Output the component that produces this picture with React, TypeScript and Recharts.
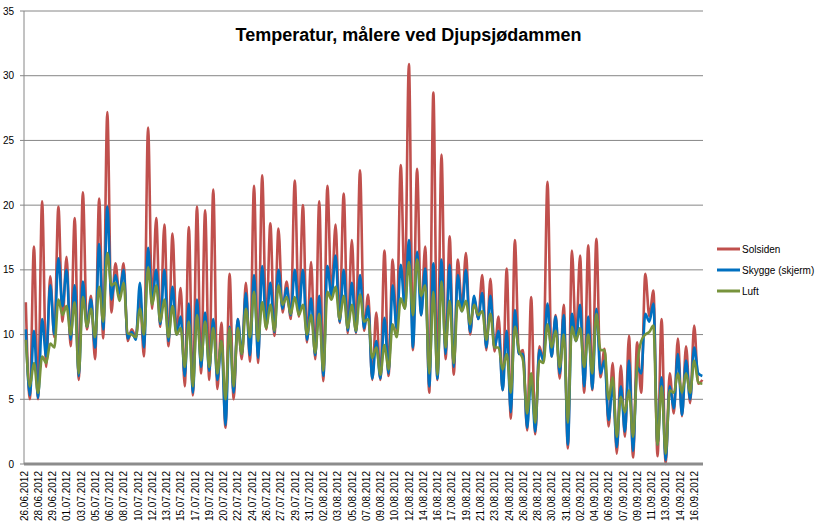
import React from 'react';
import { LineChart, Line, XAxis, YAxis, CartesianGrid } from 'recharts';

const chartTitle = 'Temperatur, målere ved Djupsjødammen';
const seriesNames = ['Solsiden', 'Skygge (skjerm)', 'Luft'];
const seriesKeys = ['solsiden', 'skygge', 'luft'];
const seriesColors = ['#C0504D', '#0070C0', '#77933C'];

const yTicks = [0, 5, 10, 15, 20, 25, 30, 35];

const tickLabels = [
  '26.06.2012', '28.06.2012', '29.06.2012', '01.07.2012', '03.07.2012', '05.07.2012',
  '06.07.2012', '08.07.2012', '10.07.2012', '12.07.2012', '13.07.2012', '15.07.2012',
  '17.07.2012', '19.07.2012', '20.07.2012', '22.07.2012', '24.07.2012', '26.07.2012',
  '27.07.2012', '29.07.2012', '31.07.2012', '02.08.2012', '03.08.2012', '05.08.2012',
  '07.08.2012', '09.08.2012', '10.08.2012', '12.08.2012', '14.08.2012', '16.08.2012',
  '17.08.2012', '19.08.2012', '21.08.2012', '23.08.2012', '24.08.2012', '26.08.2012',
  '28.08.2012', '30.08.2012', '31.08.2012', '02.09.2012', '04.09.2012', '06.09.2012',
  '07.09.2012', '09.09.2012', '11.09.2012', '13.09.2012', '14.09.2012', '16.09.2012',
];

// days between labelled categories, and sampling (afternoon peak / night low)
const tickStepDays = 1.75;
const sampleStepDays = 0.5;
const firstSampleDay = 0.22;
const axisEndDay = 83.3;

// values alternate: daytime high, following night low
const solsiden = [
  12.5, 5.0, 16.8, 5.0, 20.3, 7.5, 14.5, 9.8, 19.9, 11.0, 16.0, 9.1, 19.0, 6.5, 21.0, 10.4, 13.0, 8.1, 20.5, 9.7,
  27.2, 11.7, 15.5, 12.9, 15.5, 9.5, 10.4, 9.8, 13.0, 8.3, 26.0, 12.0, 19.0, 10.6, 18.5, 9.1, 17.8, 10.0, 13.6, 6.0,
  18.3, 5.3, 19.9, 7.0, 19.6, 6.5, 21.2, 5.8, 10.9, 2.8, 14.7, 5.0, 11.2, 8.1, 14.0, 7.9, 21.5, 7.8, 22.3, 10.4,
  18.6, 9.9, 18.2, 11.7, 14.1, 11.2, 21.9, 11.4, 20.0, 9.4, 15.6, 8.1, 20.3, 6.4, 21.5, 12.9, 18.5, 10.9, 20.9, 10.1,
  17.3, 10.1, 22.7, 10.3, 13.1, 6.5, 11.7, 6.5, 16.5, 6.8, 15.8, 10.3, 23.1, 13.0, 30.9, 8.8, 22.8, 11.5, 16.8, 5.5,
  28.7, 6.5, 23.9, 8.1, 17.6, 6.9, 15.8, 12.1, 16.3, 10.0, 12.8, 11.2, 14.6, 8.8, 14.3, 8.7, 11.4, 5.7, 15.1, 3.5,
  17.3, 8.5, 8.8, 2.6, 12.9, 2.3, 9.1, 8.0, 21.8, 8.3, 11.5, 6.6, 12.3, 1.2, 16.5, 9.5, 16.1, 5.5, 16.9, 5.7,
  17.4, 6.7, 8.9, 2.9, 7.8, 0.8, 7.6, 2.1, 9.9, 0.5, 9.4, 5.5, 14.7, 11.4, 13.4, 0.6, 11.2, 0.0, 7.0, 3.9,
  9.7, 3.7, 9.1, 4.7, 10.7, 6.2, 6.5,
];

const skygge = [
  10.4, 5.3, 10.3, 5.1, 11.2, 8.3, 13.8, 10.0, 15.9, 12.2, 15.0, 9.6, 13.8, 6.8, 14.1, 10.6, 12.7, 9.0, 17.0, 10.4,
  19.9, 12.7, 14.6, 13.2, 15.0, 9.7, 10.2, 9.6, 14.0, 9.0, 16.7, 12.5, 15.0, 10.8, 15.0, 9.5, 13.7, 10.0, 11.4, 6.8,
  12.4, 5.5, 12.7, 7.5, 11.7, 7.2, 11.2, 6.5, 9.5, 3.0, 10.6, 5.5, 11.2, 8.5, 13.2, 8.4, 14.6, 8.2, 15.3, 10.6,
  14.0, 10.2, 15.0, 12.0, 13.6, 11.5, 15.0, 11.6, 15.0, 9.6, 12.8, 8.4, 13.0, 6.8, 15.3, 13.0, 16.1, 11.0, 15.0, 10.3,
  14.0, 10.2, 14.6, 10.5, 12.2, 6.6, 9.5, 6.6, 11.3, 7.0, 13.8, 10.5, 15.4, 12.0, 17.3, 9.0, 16.4, 11.5, 15.1, 6.0,
  15.5, 6.6, 15.8, 8.5, 15.4, 7.5, 14.6, 11.8, 15.0, 10.2, 13.0, 11.2, 13.2, 9.0, 13.0, 9.0, 10.3, 5.7, 10.3, 4.0,
  11.9, 8.5, 8.5, 2.8, 6.7, 2.5, 8.8, 8.0, 12.4, 8.3, 11.4, 7.0, 11.5, 1.5, 11.6, 9.5, 12.3, 6.0, 11.4, 5.8,
  12.0, 7.0, 8.0, 3.4, 6.1, 1.3, 6.0, 2.5, 8.0, 1.0, 7.5, 7.0, 11.6, 11.0, 12.4, 1.5, 6.7, 0.3, 6.0, 4.3,
  8.5, 3.8, 8.0, 5.0, 9.0, 7.0, 6.8,
];

const luft = [
  9.6, 6.0, 7.8, 5.5, 8.3, 7.8, 9.3, 9.0, 12.7, 11.5, 12.2, 10.0, 12.5, 7.0, 12.9, 10.6, 12.0, 9.8, 13.7, 11.0,
  16.3, 13.8, 14.0, 12.6, 14.0, 10.1, 10.0, 9.8, 12.0, 10.0, 15.2, 12.3, 13.8, 11.0, 12.7, 9.8, 12.2, 10.0, 10.5, 7.5,
  11.0, 6.0, 11.5, 8.0, 11.0, 7.5, 10.5, 7.0, 9.5, 5.0, 10.5, 6.0, 10.5, 8.5, 12.0, 9.8, 13.3, 9.5, 12.5, 10.5,
  12.3, 10.3, 13.8, 12.3, 12.9, 11.6, 12.9, 11.5, 12.3, 10.0, 11.5, 8.6, 11.6, 7.2, 13.3, 12.7, 13.7, 11.2, 13.0, 10.5,
  12.3, 10.3, 13.1, 11.0, 11.2, 8.2, 9.0, 6.9, 9.2, 7.3, 10.8, 9.8, 12.8, 12.0, 15.6, 11.5, 15.8, 13.0, 13.8, 7.0,
  13.3, 6.9, 14.1, 9.0, 12.6, 7.8, 12.6, 11.8, 12.6, 10.8, 12.3, 11.5, 11.8, 9.6, 11.6, 9.0, 9.0, 7.3, 8.5, 5.5,
  10.6, 8.8, 8.0, 3.9, 7.0, 3.2, 8.0, 7.8, 10.8, 9.0, 10.3, 7.5, 10.0, 3.2, 10.6, 9.5, 10.5, 7.5, 10.0, 7.0,
  11.6, 8.8, 8.8, 5.0, 6.7, 2.1, 5.2, 4.0, 5.7, 2.1, 7.5, 9.5, 10.0, 10.2, 10.7, 1.5, 6.0, 0.8, 5.7, 5.5,
  7.0, 5.5, 7.0, 5.5, 8.0, 6.3, 6.2,
];

const data = solsiden.map((v, i) => ({
  t: firstSampleDay + sampleStepDays * i,
  solsiden: v,
  skygge: skygge[i],
  luft: luft[i],
}));

const xTicks = tickLabels.map((_, k) => k * tickStepDays);

const FONT = '"Liberation Sans", Arial, sans-serif';

const DateTick = (props: any) => {
  const { x, y, payload } = props;
  const idx = Math.round(payload.value / tickStepDays);
  return (
    <g transform={`translate(${x},${y})`}>
      <text
        x={0}
        y={0}
        dy="0.35em"
        textAnchor="end"
        transform="rotate(-90)"
        fontSize={10}
        fontFamily={FONT}
        fill="#000"
      >
        {tickLabels[idx]}
      </text>
    </g>
  );
};

export default function App() {
  return (
    <div style={{ position: 'absolute', left: 0, top: 0, width: 819, height: 526, background: '#fff' }}>
      <LineChart
        width={819}
        height={526}
        data={data}
        margin={{ top: 11, right: 116, bottom: 0, left: 0 }}
      >
        <CartesianGrid vertical={false} stroke="#868686" strokeWidth={1} />
        <XAxis
          dataKey="t"
          type="number"
          domain={[0, axisEndDay]}
          ticks={xTicks}
          interval={0}
          height={62}
          tickLine={false}
          tickSize={5}
          tickMargin={2}
          axisLine={{ stroke: '#8c8c8c', strokeWidth: 3 }}
          tick={<DateTick />}
        />
        <YAxis
          type="number"
          domain={[0, 35]}
          ticks={yTicks}
          interval={0}
          width={24}
          tickSize={4}
          tickMargin={6}
          axisLine={{ stroke: '#868686' }}
          tickLine={{ stroke: '#868686' }}
          tick={{ fontSize: 10, fill: '#000', fontFamily: FONT }}
        />
        {seriesKeys.map((k, i) => (
          <Line
            key={k}
            dataKey={k}
            name={seriesNames[i]}
            type="monotone"
            stroke={seriesColors[i]}
            strokeWidth={2.6}
            dot={false}
            isAnimationActive={false}
          />
        ))}
      </LineChart>
      <svg
        width={819}
        height={526}
        style={{ position: 'absolute', left: 0, top: 0, pointerEvents: 'none' }}
      >
        <text
          x={408.5}
          y={41}
          textAnchor="middle"
          fontSize={18}
          fontWeight="bold"
          fontFamily={FONT}
          fill="#000"
        >
          {chartTitle}
        </text>
        {seriesNames.map((n, i) => (
          <g key={n}>
            <line
              x1={717}
              x2={740}
              y1={249 + i * 21}
              y2={249 + i * 21}
              stroke={seriesColors[i]}
              strokeWidth={3}
            />
            <text
              x={742}
              y={249 + i * 21}
              dy="0.35em"
              fontSize={10}
              fontFamily={FONT}
              fill="#000"
            >
              {n}
            </text>
          </g>
        ))}
      </svg>
    </div>
  );
}
